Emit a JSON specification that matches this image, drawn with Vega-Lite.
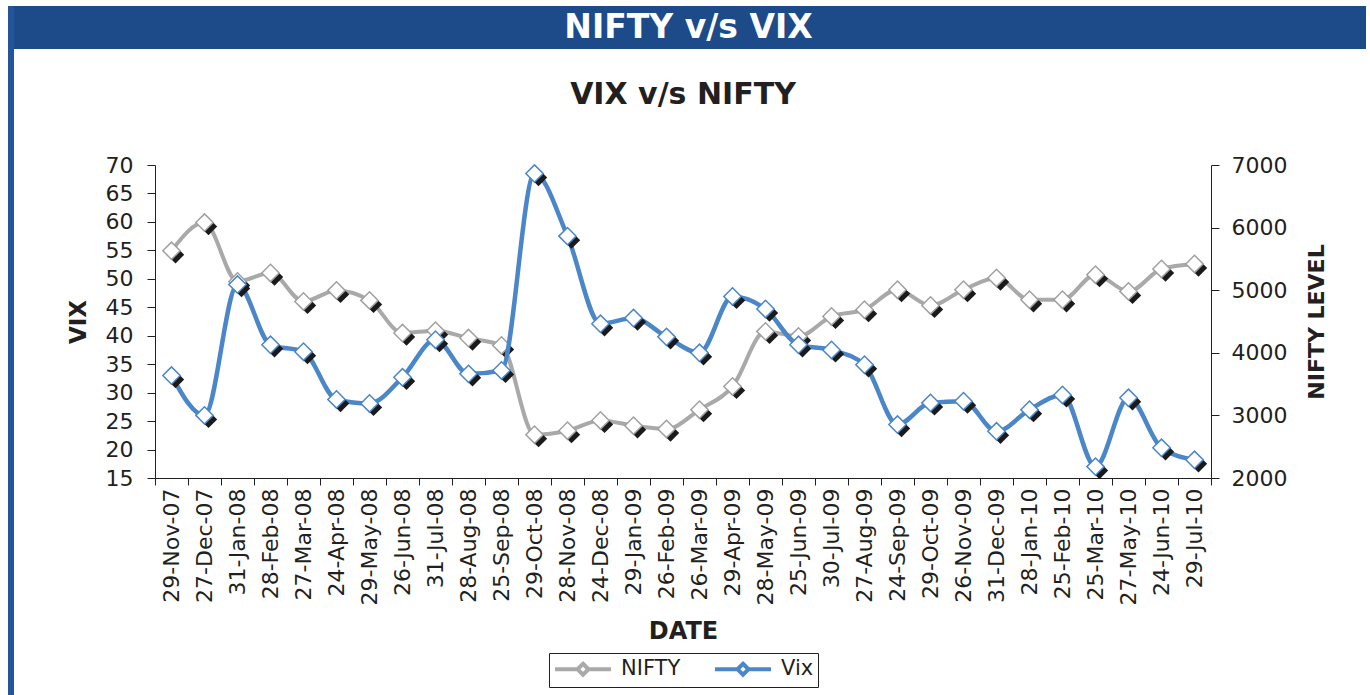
{
  "$schema": "https://vega.github.io/schema/vega-lite/v6.json",
  "background": "white",
  "padding": {"left": 8, "top": 6, "right": 0, "bottom": 0},
  "config": {"font": "DejaVu Sans", "view": {"stroke": null}, "legend": {"layout": {"bottom": {"anchor": "middle"}}}},
  "datasets": {
    "series": [
      {"date": "29-Nov-07", "series": "NIFTY", "value": 5630},
      {"date": "27-Dec-07", "series": "NIFTY", "value": 6080},
      {"date": "31-Jan-08", "series": "NIFTY", "value": 5140},
      {"date": "28-Feb-08", "series": "NIFTY", "value": 5275},
      {"date": "27-Mar-08", "series": "NIFTY", "value": 4821},
      {"date": "24-Apr-08", "series": "NIFTY", "value": 4997},
      {"date": "29-May-08", "series": "NIFTY", "value": 4837},
      {"date": "26-Jun-08", "series": "NIFTY", "value": 4316},
      {"date": "31-Jul-08", "series": "NIFTY", "value": 4353},
      {"date": "28-Aug-08", "series": "NIFTY", "value": 4236},
      {"date": "25-Sep-08", "series": "NIFTY", "value": 4118},
      {"date": "29-Oct-08", "series": "NIFTY", "value": 2692},
      {"date": "28-Nov-08", "series": "NIFTY", "value": 2756},
      {"date": "24-Dec-08", "series": "NIFTY", "value": 2920},
      {"date": "29-Jan-09", "series": "NIFTY", "value": 2835},
      {"date": "26-Feb-09", "series": "NIFTY", "value": 2783},
      {"date": "26-Mar-09", "series": "NIFTY", "value": 3091},
      {"date": "29-Apr-09", "series": "NIFTY", "value": 3463},
      {"date": "28-May-09", "series": "NIFTY", "value": 4342},
      {"date": "25-Jun-09", "series": "NIFTY", "value": 4262},
      {"date": "30-Jul-09", "series": "NIFTY", "value": 4581},
      {"date": "27-Aug-09", "series": "NIFTY", "value": 4689},
      {"date": "24-Sep-09", "series": "NIFTY", "value": 5008},
      {"date": "29-Oct-09", "series": "NIFTY", "value": 4757},
      {"date": "26-Nov-09", "series": "NIFTY", "value": 5008},
      {"date": "31-Dec-09", "series": "NIFTY", "value": 5195},
      {"date": "28-Jan-10", "series": "NIFTY", "value": 4848},
      {"date": "25-Feb-10", "series": "NIFTY", "value": 4848},
      {"date": "25-Mar-10", "series": "NIFTY", "value": 5248},
      {"date": "27-May-10", "series": "NIFTY", "value": 4981},
      {"date": "24-Jun-10", "series": "NIFTY", "value": 5339},
      {"date": "29-Jul-10", "series": "NIFTY", "value": 5419},
      {"date": "29-Nov-07", "series": "Vix", "value": 33.0},
      {"date": "27-Dec-07", "series": "Vix", "value": 26.0},
      {"date": "31-Jan-08", "series": "Vix", "value": 49.0},
      {"date": "28-Feb-08", "series": "Vix", "value": 38.4},
      {"date": "27-Mar-08", "series": "Vix", "value": 37.2},
      {"date": "24-Apr-08", "series": "Vix", "value": 28.8},
      {"date": "29-May-08", "series": "Vix", "value": 28.1},
      {"date": "26-Jun-08", "series": "Vix", "value": 32.7},
      {"date": "31-Jul-08", "series": "Vix", "value": 39.3},
      {"date": "28-Aug-08", "series": "Vix", "value": 33.3},
      {"date": "25-Sep-08", "series": "Vix", "value": 33.9},
      {"date": "29-Oct-08", "series": "Vix", "value": 68.5},
      {"date": "28-Nov-08", "series": "Vix", "value": 57.5},
      {"date": "24-Dec-08", "series": "Vix", "value": 42.1},
      {"date": "29-Jan-09", "series": "Vix", "value": 43.1},
      {"date": "26-Feb-09", "series": "Vix", "value": 39.8},
      {"date": "26-Mar-09", "series": "Vix", "value": 37.0},
      {"date": "29-Apr-09", "series": "Vix", "value": 46.9},
      {"date": "28-May-09", "series": "Vix", "value": 44.7},
      {"date": "25-Jun-09", "series": "Vix", "value": 38.4},
      {"date": "30-Jul-09", "series": "Vix", "value": 37.5},
      {"date": "27-Aug-09", "series": "Vix", "value": 34.9},
      {"date": "24-Sep-09", "series": "Vix", "value": 24.4},
      {"date": "29-Oct-09", "series": "Vix", "value": 28.2},
      {"date": "26-Nov-09", "series": "Vix", "value": 28.5},
      {"date": "31-Dec-09", "series": "Vix", "value": 23.2},
      {"date": "28-Jan-10", "series": "Vix", "value": 27.0},
      {"date": "25-Feb-10", "series": "Vix", "value": 29.6},
      {"date": "25-Mar-10", "series": "Vix", "value": 17.0},
      {"date": "27-May-10", "series": "Vix", "value": 29.1},
      {"date": "24-Jun-10", "series": "Vix", "value": 20.3},
      {"date": "29-Jul-10", "series": "Vix", "value": 18.2}
    ]
  },
  "hconcat": [
    {
      "width": 3, "height": 689,
      "data": {"values": [{"part": "border"}]},
      "view": {"fill": "#24559a", "stroke": null},
      "mark": {"type": "rect", "color": "#24559a"}
    },
    {
      "vconcat": [
        {
          "width": 1355, "height": 43,
          "data": {"values": [{"label": "NIFTY v/s VIX"}]},
          "view": {"fill": "#1d4b89", "stroke": null},
          "mark": {"type": "text", "color": "white", "fontSize": 33, "fontWeight": "bold", "font": "DejaVu Sans", "baseline": "middle", "align": "center"},
          "encoding": {"text": {"field": "label"}}
        },
        {
          "hconcat": [
            {
              "width": 1, "height": 1,
              "data": {"values": [{"label": ""}]},
              "view": {"stroke": null},
              "mark": {"type": "text"},
              "encoding": {"text": {"field": "label"}}
            },
            {
              "width": 1056, "height": 313,
              "title": {"text": "VIX v/s NIFTY", "fontSize": 30, "font": "DejaVu Sans", "fontWeight": "bold", "color": "#231f20", "anchor": "middle", "frame": "group", "baseline": "alphabetic", "offset": 20},
              "data": {"name": "series"},
              "encoding": {
                "x": {
                  "field": "date", "type": "ordinal",
                  "scale": {"type": "band", "paddingInner": 0, "paddingOuter": 0,
                    "domain": ["29-Nov-07","27-Dec-07","31-Jan-08","28-Feb-08","27-Mar-08","24-Apr-08","29-May-08","26-Jun-08","31-Jul-08","28-Aug-08","25-Sep-08","29-Oct-08","28-Nov-08","24-Dec-08","29-Jan-09","26-Feb-09","26-Mar-09","29-Apr-09","28-May-09","25-Jun-09","30-Jul-09","27-Aug-09","24-Sep-09","29-Oct-09","26-Nov-09","31-Dec-09","28-Jan-10","25-Feb-10","25-Mar-10","27-May-10","24-Jun-10","29-Jul-10"]},
                  "axis": {
                    "title": "DATE", "labelAngle": -90, "tickBand": "extent", "tickSize": 7, "labelPadding": 3,
                    "labelFont": "DejaVu Sans", "labelFontSize": 22, "labelColor": "#231f20",
                    "titleFont": "DejaVu Sans", "titleFontSize": 24, "titleFontWeight": "bold", "titleColor": "#231f20", "titlePadding": 15,
                    "domainColor": "#231f20", "tickColor": "#231f20", "grid": false
                  }
                }
              },
              "layer": [
                {
                  "transform": [{"filter": "datum.series === 'NIFTY'"}],
                  "encoding": {
                    "y": {
                      "field": "value", "type": "quantitative",
                      "scale": {"domain": [2000, 7000], "nice": false, "zero": false},
                      "axis": {
                        "orient": "right", "title": "NIFTY LEVEL", "values": [2000, 3000, 4000, 5000, 6000, 7000], "format": "d",
                        "tickSize": 8, "labelPadding": 12, "titleAngle": 270, "titlePadding": 42,
                        "labelFont": "DejaVu Sans", "labelFontSize": 22, "labelColor": "#231f20",
                        "titleFont": "DejaVu Sans", "titleFontSize": 22, "titleFontWeight": "bold", "titleColor": "#231f20",
                        "domainColor": "#231f20", "tickColor": "#231f20", "grid": false
                      }
                    }
                  },
                  "layer": [
                    {
                      "mark": {"type": "line", "strokeWidth": 4, "interpolate": "monotone"},
                      "encoding": {
                        "color": {
                          "field": "series", "type": "nominal",
                          "scale": {"domain": ["NIFTY", "Vix"], "range": ["#a9a9a9", "#4a86c8"]},
                          "legend": {
                            "title": null, "orient": "bottom", "direction": "horizontal",
                            "strokeColor": "#231f20", "padding": 4, "offset": 9,
                            "symbolType": "M-1,0L1.25,0M2.35,0L4.6,0M1.8,-0.55L2.35,0L1.8,0.55L1.25,0Z",
                            "symbolSize": 400, "symbolStrokeWidth": 4, "symbolFillColor": "white",
                            "labelFont": "DejaVu Sans", "labelFontSize": 21, "labelColor": "#231f20",
                            "labelOffset": 44, "columnPadding": 26,
                            "encode": {"symbols": {"update": {"fill": {"value": "white"}}}}
                          }
                        }
                      }
                    },
                    {"mark": {"type": "point", "shape": "diamond", "size": 300, "filled": true, "fill": "#1a1a1a", "opacity": 1, "xOffset": 4, "yOffset": 4}},
                    {"mark": {"type": "point", "shape": "diamond", "size": 300, "filled": true, "fill": "white", "stroke": "#a0a0a0", "strokeWidth": 1.5, "opacity": 1}}
                  ]
                },
                {
                  "transform": [{"filter": "datum.series === 'Vix'"}],
                  "encoding": {
                    "y": {
                      "field": "value", "type": "quantitative",
                      "scale": {"domain": [15, 70], "nice": false, "zero": false},
                      "axis": {
                        "orient": "left", "title": "VIX", "values": [15, 20, 25, 30, 35, 40, 45, 50, 55, 60, 65, 70],
                        "tickSize": 8, "labelPadding": 14, "titlePadding": 15,
                        "labelFont": "DejaVu Sans", "labelFontSize": 22, "labelColor": "#231f20",
                        "titleFont": "DejaVu Sans", "titleFontSize": 23, "titleFontWeight": "bold", "titleColor": "#231f20",
                        "domainColor": "#231f20", "tickColor": "#231f20", "grid": false
                      }
                    }
                  },
                  "layer": [
                    {
                      "mark": {"type": "line", "strokeWidth": 4.5, "interpolate": "monotone"},
                      "encoding": {
                        "color": {"field": "series", "type": "nominal", "scale": {"domain": ["NIFTY", "Vix"], "range": ["#a9a9a9", "#4a86c8"]}}
                      }
                    },
                    {"mark": {"type": "point", "shape": "diamond", "size": 300, "filled": true, "fill": "#1a1a1a", "opacity": 1, "xOffset": 4, "yOffset": 4}},
                    {"mark": {"type": "point", "shape": "diamond", "size": 300, "filled": true, "fill": "white", "stroke": "#4a86c8", "strokeWidth": 1.5, "opacity": 1}}
                  ]
                }
              ],
              "resolve": {"scale": {"y": "independent"}}
            }
          ],
          "spacing": 143,
          "bounds": "flush",
          "resolve": {"scale": {"color": "independent"}, "legend": {"color": "independent"}}
        }
      ],
      "spacing": 116,
      "bounds": "flush",
      "resolve": {"scale": {"color": "independent"}, "legend": {"color": "independent"}}
    },
    {
      "width": 3, "height": 689,
      "data": {"values": [{"part": "border"}]},
      "view": {"fill": "#24559a", "stroke": null},
      "mark": {"type": "rect", "color": "#24559a"}
    }
  ],
  "spacing": 0,
  "bounds": "flush",
  "resolve": {"scale": {"color": "independent"}, "legend": {"color": "independent"}}
}
